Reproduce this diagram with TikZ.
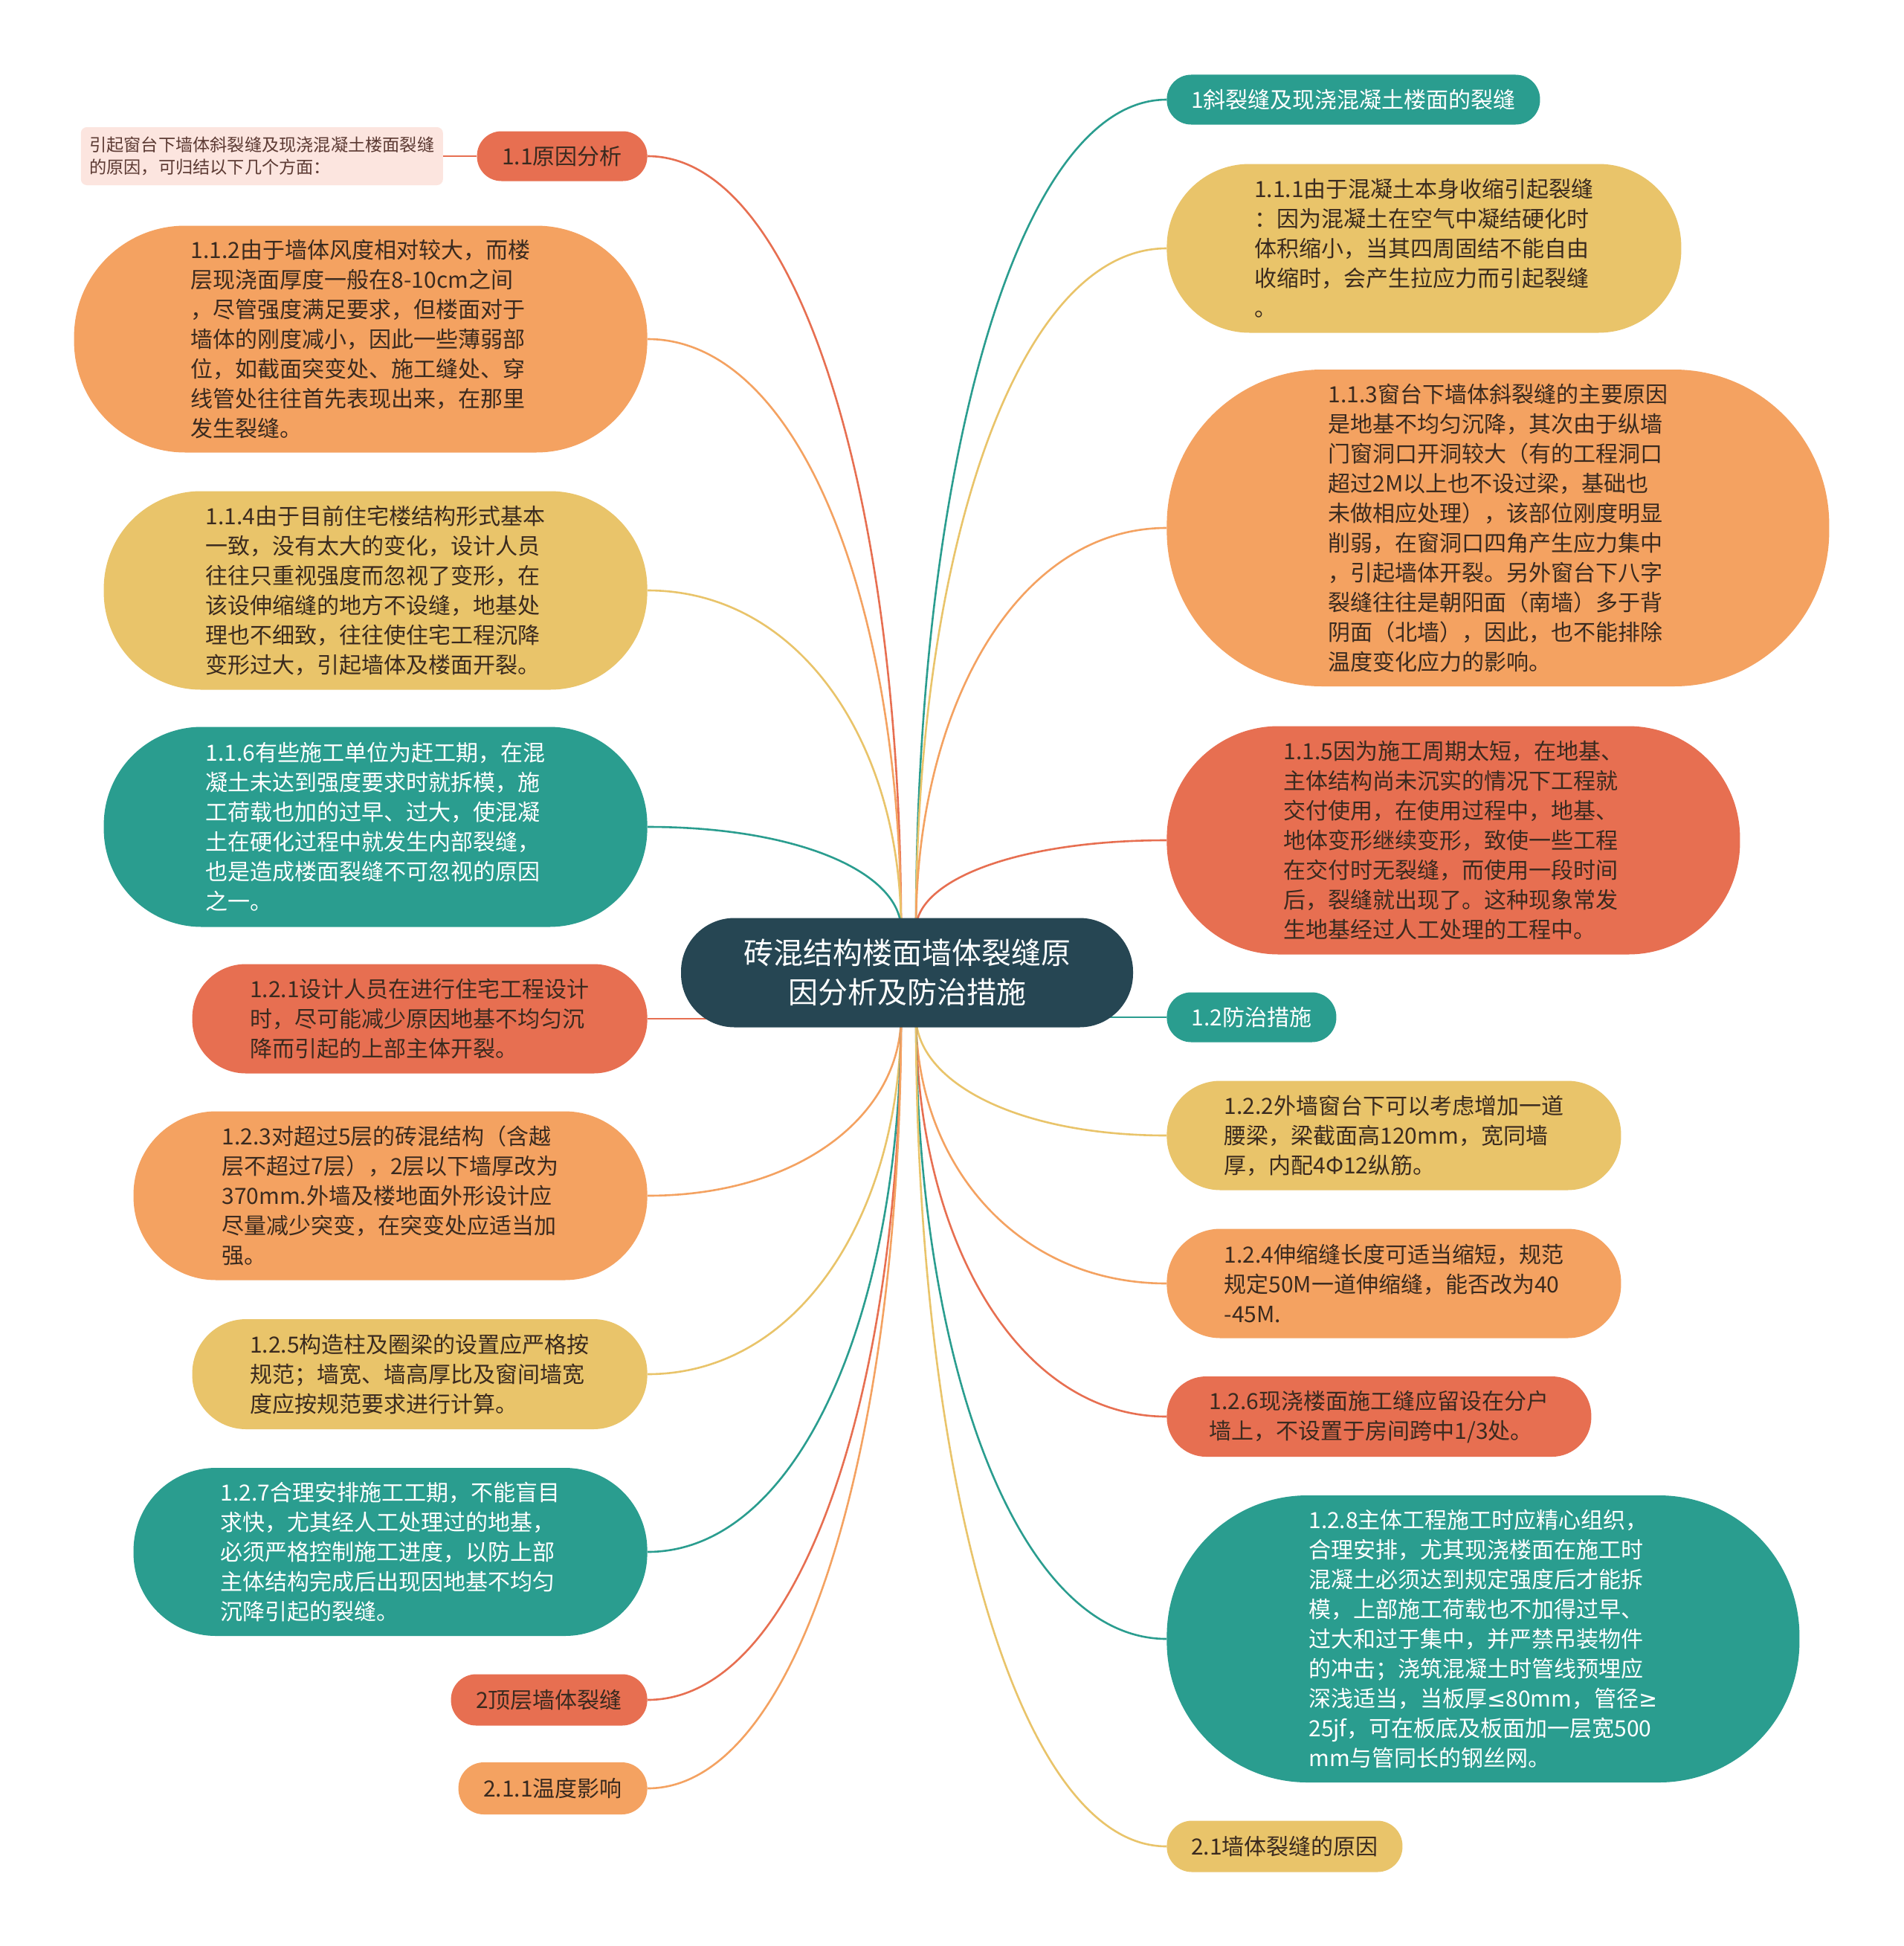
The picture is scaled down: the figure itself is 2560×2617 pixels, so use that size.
\documentclass[tikz,border=0pt]{standalone}
\usepackage{fontspec}
\newfontfamily\cjk{Noto Sans CJK SC}
\newfontfamily\symfont{DejaVu Sans}
\usetikzlibrary{calc,positioning}
\definecolor{ShutuTeal}{HTML}{2A9D8F}
\definecolor{ShutuGold}{HTML}{E9C46A}
\definecolor{ShutuSand}{HTML}{F4A261}
\definecolor{ShutuCoral}{HTML}{E76F51}
\definecolor{ShutuHub}{HTML}{264653}
\definecolor{ShutuInk}{HTML}{3A2A1F}
\definecolor{ShutuNote}{HTML}{FCE5DF}
\definecolor{ShutuNoteInk}{HTML}{5C3A33}
\tikzset{
  shutu box/.style={
    inner sep=0pt,
    align=left,
    text=ShutuInk,
    font=\cjk\fontsize{15}{20}\selectfont
  },
  teal box/.style={shutu box,fill=ShutuTeal,text=white},
  gold box/.style={shutu box,fill=ShutuGold},
  sand box/.style={shutu box,fill=ShutuSand},
  coral box/.style={shutu box,fill=ShutuCoral},
  pill/.style 2 args={minimum width=#1,minimum height=#2,rounded corners=0.49*#2},
  hub box/.style={
    fill=ShutuHub,
    text=white,
    inner sep=0pt,
    align=center,
    font=\cjk\fontsize{20}{26.5}\selectfont
  },
  note box/.style={
    fill=ShutuNote,
    text=ShutuNoteInk,
    rounded corners=4pt,
    inner sep=0pt,
    align=left,
    minimum width=243.5pt,
    minimum height=39pt,
    font=\cjk\fontsize{11.6}{15}\selectfont
  },
  link/.style={line width=1.3pt},
  branch/.style={to path={
    .. controls ($(\tikztostart)!0.55!(\tikztostart |- \tikztotarget)$)
    and ($(\tikztostart |- \tikztotarget)!0.4!(\tikztotarget)$) .. (\tikztotarget)}}
}

\begin{document}
\begin{tikzpicture}[x=0.5pt,y=-0.5pt]
  \fill[white] (0,0) rectangle (2560,2617);
  \useasboundingbox (0,0) rectangle (2560,2617);

  % left column
  \node[coral box,pill={114.5pt}{33.5pt},anchor=east] (n11) at (871,210) {1.1原因分析};
  \node[note box,left=22.5pt of n11] (note) {引起窗台下墙体斜裂缝及现浇混凝土楼面裂缝\\的原因，可归结以下几个方面：};
  \node[sand box,pill={385.5pt}{152.5pt},anchor=east] (n112) at (871,456) {1.1.2由于墙体风度相对较大，而楼\\层现浇面厚度一般在8-10cm之间\\，尽管强度满足要求，但楼面对于\\墙体的刚度减小，因此一些薄弱部\\位，如截面突变处、施工缝处、穿\\线管处往往首先表现出来，在那里\\发生裂缝。};
  \node[gold box,pill={365.5pt}{133.5pt},anchor=east] (n114) at (871,794) {1.1.4由于目前住宅楼结构形式基本\\一致，没有太大的变化，设计人员\\往往只重视强度而忽视了变形，在\\该设伸缩缝的地方不设缝，地基处\\理也不细致，往往使住宅工程沉降\\变形过大，引起墙体及楼面开裂。};
  \node[teal box,pill={365.5pt}{134.5pt},anchor=east] (n116) at (871,1112) {1.1.6有些施工单位为赶工期，在混\\凝土未达到强度要求时就拆模，施\\工荷载也加的过早、过大，使混凝\\土在硬化过程中就发生内部裂缝，\\也是造成楼面裂缝不可忽视的原因\\之一。};
  \node[coral box,pill={306pt}{73.5pt},anchor=east] (n121) at (871,1370) {1.2.1设计人员在进行住宅工程设计\\时，尽可能减少原因地基不均匀沉\\降而引起的上部主体开裂。};
  \node[sand box,pill={345.5pt}{113.5pt},anchor=east] (n123) at (871,1608) {1.2.3对超过5层的砖混结构（含越\\层不超过7层），2层以下墙厚改为\\370mm.外墙及楼地面外形设计应\\尽量减少突变，在突变处应适当加\\强。};
  \node[gold box,pill={306pt}{74pt},anchor=east] (n125) at (871,1848) {1.2.5构造柱及圈梁的设置应严格按\\规范；墙宽、墙高厚比及窗间墙宽\\度应按规范要求进行计算。};
  \node[teal box,pill={345.5pt}{113pt},anchor=east] (n127) at (871,2087) {1.2.7合理安排施工工期，不能盲目\\求快，尤其经人工处理过的地基，\\必须严格控制施工进度，以防上部\\主体结构完成后出现因地基不均匀\\沉降引起的裂缝。};
  \node[coral box,pill={132pt}{34.5pt},anchor=east] (n2) at (871,2286) {2顶层墙体裂缝};
  \node[sand box,pill={127pt}{35pt},anchor=east] (n211) at (871,2405) {2.1.1温度影响};

  % right column
  \node[teal box,pill={251pt}{33.5pt},anchor=west] (n1) at (1569,134) {1斜裂缝及现浇混凝土楼面的裂缝};
  \node[gold box,pill={346pt}{113.5pt},anchor=west] (n111) at (1569,334) {1.1.1由于混凝土本身收缩引起裂缝\\：因为混凝土在空气中凝结硬化时\\体积缩小，当其四周固结不能自由\\收缩时，会产生拉应力而引起裂缝\\。};
  \node[sand box,pill={445.5pt}{213pt},anchor=west] (n113) at (1569,710) {1.1.3窗台下墙体斜裂缝的主要原因\\是地基不均匀沉降，其次由于纵墙\\门窗洞口开洞较大（有的工程洞口\\超过2M以上也不设过梁，基础也\\未做相应处理），该部位刚度明显\\削弱，在窗洞口四角产生应力集中\\，引起墙体开裂。另外窗台下八字\\裂缝往往是朝阳面（南墙）多于背\\阴面（北墙），因此，也不能排除\\温度变化应力的影响。};
  \node[coral box,pill={385.5pt}{153.5pt},anchor=west] (n115) at (1569,1130) {1.1.5因为施工周期太短，在地基、\\主体结构尚未沉实的情况下工程就\\交付使用，在使用过程中，地基、\\地体变形继续变形，致使一些工程\\在交付时无裂缝，而使用一段时间\\后，裂缝就出现了。这种现象常发\\生地基经过人工处理的工程中。};
  \node[teal box,pill={114pt}{33.5pt},anchor=west] (n12) at (1569,1368) {1.2防治措施};
  \node[gold box,pill={305.5pt}{73.5pt},anchor=west] (n122) at (1569,1527) {1.2.2外墙窗台下可以考虑增加一道\\腰梁，梁截面高120mm，宽同墙\\厚，内配4Φ12纵筋。};
  \node[sand box,pill={305.5pt}{73.5pt},anchor=west] (n124) at (1569,1726) {1.2.4伸缩缝长度可适当缩短，规范\\规定50M一道伸缩缝，能否改为40\\-45M.};
  \node[coral box,pill={285.5pt}{54pt},anchor=west] (n126) at (1569,1905) {1.2.6现浇楼面施工缝应留设在分户\\墙上，不设置于房间跨中1/3处。};
  \node[teal box,pill={425.5pt}{193pt},anchor=west] (n128) at (1569,2204) {1.2.8主体工程施工时应精心组织，\\合理安排，尤其现浇楼面在施工时\\混凝土必须达到规定强度后才能拆\\模，上部施工荷载也不加得过早、\\过大和过于集中，并严禁吊装物件\\的冲击；浇筑混凝土时管线预埋应\\深浅适当，当板厚{\symfont ≤}80mm，管径{\symfont ≥}\\25jf，可在板底及板面加一层宽500\\mm与管同长的钢丝网。};
  \node[gold box,pill={158.5pt}{34.5pt},anchor=west] (n21) at (1569,2483) {2.1墙体裂缝的原因};

  % connectors, drawn before the hub so it covers their ends
  \coordinate (hub) at (1220,1308);
  \coordinate (hubTL) at (1212,1250);
  \coordinate (hubTR) at (1232,1250);
  \coordinate (hubBL) at (1212,1366);
  \coordinate (hubBR) at (1232,1366);
  \draw[link,ShutuCoral] (note.east) -- (n11.west);
  \draw[link,ShutuCoral] (hubTL) to[branch] (n11.east);
  \draw[link,ShutuSand] (hubTL) to[branch] (n112.east);
  \draw[link,ShutuGold] (hubTL) to[branch] (n114.east);
  \draw[link,ShutuTeal] (hubTL) to[branch] (n116.east);
  \draw[link,ShutuCoral] (n121.east) -- (n121.east -| hub);
  \draw[link,ShutuSand] (hubBL) to[branch] (n123.east);
  \draw[link,ShutuGold] (hubBL) to[branch] (n125.east);
  \draw[link,ShutuTeal] (hubBL) to[branch] (n127.east);
  \draw[link,ShutuCoral] (hubBL) to[branch] (n2.east);
  \draw[link,ShutuSand] (hubBL) to[branch] (n211.east);
  \draw[link,ShutuTeal] (hubTR) to[branch] (n1.west);
  \draw[link,ShutuGold] (hubTR) to[branch] (n111.west);
  \draw[link,ShutuSand] (hubTR) to[branch] (n113.west);
  \draw[link,ShutuCoral] (hubTR) to[branch] (n115.west);
  \draw[link,ShutuTeal] (n12.west) -- (n12.west -| hub);
  \draw[link,ShutuGold] (hubBR) to[branch] (n122.west);
  \draw[link,ShutuSand] (hubBR) to[branch] (n124.west);
  \draw[link,ShutuCoral] (hubBR) to[branch] (n126.west);
  \draw[link,ShutuTeal] (hubBR) to[branch] (n128.west);
  \draw[link,ShutuGold] (hubBR) to[branch] (n21.west);

  \node[hub box,minimum width=304pt,minimum height=73.5pt,rounded corners=36pt] (center) at (hub) {砖混结构楼面墙体裂缝原\\因分析及防治措施};
\end{tikzpicture}
\end{document}
